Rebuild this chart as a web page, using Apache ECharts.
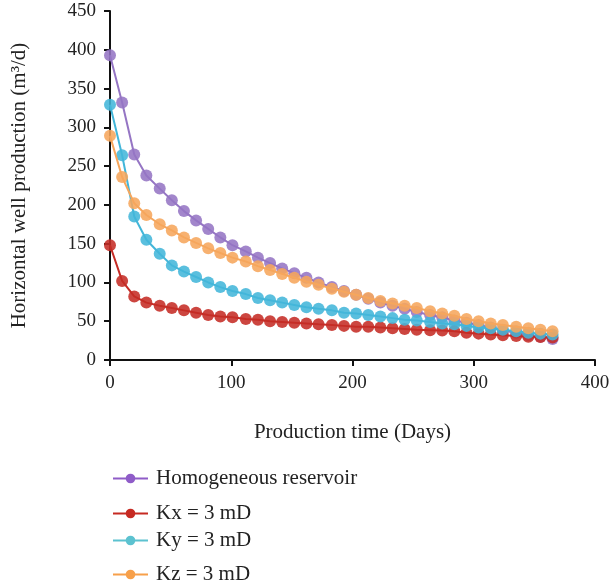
<!DOCTYPE html>
<html><head><meta charset="utf-8">
<script src="https://cdn.jsdelivr.net/npm/echarts@6/dist/echarts.min.js"></script>
<style>html,body{margin:0;padding:0;background:#fff}#c{width:610px;height:586px}</style>
</head><body><div id="c"></div>
<script>
const days = [0,10,20,30,41,51,61,71,81,91,101,112,122,132,142,152,162,172,183,193,203,213,223,233,243,253,264,274,284,294,304,314,324,335,345,355,365];
const homogeneous = [393,332,265,238,221,206,192,180,169,158,148,140,132,125,118,112,106,100,94,89,84,79,74,70,66,62,58,55,51,48,45,42,38,35,32,30,27];
const kx = [148,102,82,74,70,67,64,61,58,56,55,53,52,50,49,48,47,46,45,44,43,43,42,41,40,39,38.5,38,37,35,34,33,32,31,30,29.5,29];
const ky = [329,264,185,155,137,122,114,107,100,94,89,85,80,77,74,71,68,66,64,61,60,58,56,54,52,51,49,47,46,44,42,41,39,37,35,34,33];
const kz = [289,236,202,187,175,167,158,151,144,138,132,127,121,116,111,106,101,97,92,88,84,80,76,73,70,67,63,60,57,53,50,47,45,43,41,39,37];
const seriesNames = ['Homogeneous reservoir','Kx = 3 mD','Ky = 3 mD','Kz = 3 mD'];
const xTicks = [0,100,200,300,400];
const yTicks = [0,50,100,150,200,250,300,350,400,450];

const colors = ['#9575c4','#c52c26','#43b6d9','#f6a65c'];
const legendColors = ['#8f5cc8','#c62a22','#5cc2d0','#f7a04a'];
const values = [homogeneous,kx,ky,kz];
const font = '"Liberation Serif", "DejaVu Serif", serif';

const series = values.map((vals,i)=>({
  name: seriesNames[i], type:'line',
  data: days.map((d,j)=>[d,vals[j]]),
  symbol:'circle', symbolSize:12,
  lineStyle:{color:colors[i],width:2},
  itemStyle:{color:colors[i],opacity:0.88},
  z: 2+i
}));
const legendTops = [463,498,525,559];
const legends = seriesNames.map((n,i)=>({
  data:[{name:n,itemStyle:{color:legendColors[i],opacity:1},lineStyle:{color:legendColors[i],width:2}}],
  left:107, top:legendTops[i], orient:'vertical',
  itemWidth:35, itemHeight:12,
  textStyle:{fontFamily:font,fontSize:21,color:'#222',padding:[0,0,0,3]},
  selectedMode:false
}));

const chart = echarts.init(document.getElementById('c'),null,{renderer:'canvas'});
chart.setOption({
  animation:false,
  backgroundColor:'#fff',
  grid:{left:110,right:15,top:11,bottom:226,containLabel:false,outerBoundsMode:'none'},
  legend: legends,
  xAxis:{type:'value',min:0,max:400,interval:100,
    name:'Production time (Days)',nameLocation:'middle',nameGap:62,
    nameTextStyle:{fontFamily:font,fontSize:21,color:'#222'},
    axisLine:{show:true,onZero:false,lineStyle:{color:'#111',width:2}},
    axisTick:{show:true,length:6,lineStyle:{color:'#111',width:2}},
    axisLabel:{fontFamily:font,fontSize:19,color:'#222',margin:14,
      formatter:v=>xTicks.includes(v)?String(v):''},
    splitLine:{show:false}},
  yAxis:{type:'value',min:0,max:450,interval:50,
    name:'Horizontal well production (m³/d)',nameLocation:'middle',nameGap:80,
    nameTextStyle:{fontFamily:font,fontSize:21,color:'#222'},
    axisLine:{show:true,lineStyle:{color:'#111',width:2}},
    axisTick:{show:true,length:6,lineStyle:{color:'#111',width:2}},
    axisLabel:{fontFamily:font,fontSize:19,color:'#222',margin:14,
      formatter:v=>yTicks.includes(v)?String(v):''},
    splitLine:{show:false}},
  series: series
});
</script></body></html>
